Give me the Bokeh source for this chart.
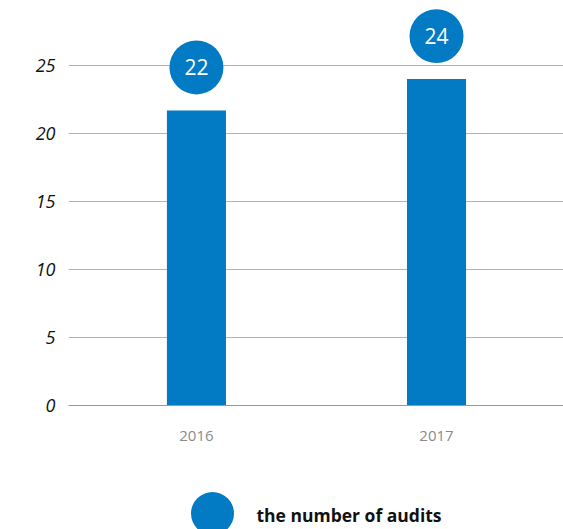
from bokeh.plotting import figure
from bokeh.layouts import column
from bokeh.models import Range1d, FixedTicker, ColumnDataSource
from bokeh.transform import dodge
from bokeh.core.properties import value
from bokeh.embed import file_html
from bokeh.resources import INLINE

# ---- data ----
years = ["2016", "2017"]
audits = [21.7, 24]
audit_labels = ["22", "24"]
series_name = ["the number of audits"]
y_ticks = [0, 5, 10, 15, 20, 25]

# ---- style ----
BLUE = "#027BC4"
FONT = "Open Sans"

xs = list(range(len(years)))
src = ColumnDataSource(dict(x=xs, top=audits, lab=audit_labels))

p = figure(width=563, height=465, output_backend="svg", toolbar_location=None,
           x_range=Range1d(-0.533, 1.529), y_range=Range1d(0, 29.78),
           min_border_left=68, min_border_right=0, min_border_top=0, min_border_bottom=60)
p.outline_line_color = None
p.background_fill_color = "white"
p.border_fill_color = "white"

p.vbar(x="x", top="top", width=0.246, bottom=0, source=src, fill_color=BLUE, line_color=None)
p.scatter(x="x", y=dodge("top", 3.16), size=54, source=src,
          fill_color=BLUE, line_color=None)
p.text(x="x", y=dodge("top", 3.16), text="lab", source=src, text_color="white",
       text_font=value(FONT), text_font_size="21px", text_align="center",
       text_baseline="middle")

# axes
p.xgrid.grid_line_color = None
p.ygrid.grid_line_color = "#b3b3b3"
p.ygrid.ticker = FixedTicker(ticks=y_ticks)

p.yaxis.ticker = FixedTicker(ticks=y_ticks)
p.yaxis.axis_line_color = None
p.yaxis.major_tick_line_color = None
p.yaxis.minor_tick_line_color = None
p.yaxis.major_tick_out = 0
p.yaxis.major_tick_in = 0
p.yaxis.major_label_standoff = 13
p.yaxis.major_label_text_font = FONT
p.yaxis.major_label_text_font_style = "italic"
p.yaxis.major_label_text_font_size = "18px"
p.yaxis.major_label_text_color = "#111111"

p.xaxis.ticker = FixedTicker(ticks=xs)
p.xaxis.major_label_overrides = {i: y for i, y in zip(xs, years)}
p.xaxis.axis_line_color = "#999999"
p.xaxis.major_tick_line_color = None
p.xaxis.minor_tick_line_color = None
p.xaxis.major_tick_out = 0
p.xaxis.major_tick_in = 0
p.xaxis.major_label_standoff = 25
p.xaxis.major_label_text_font = FONT
p.xaxis.major_label_text_font_size = "15px"
p.xaxis.major_label_text_color = "#8a8a8a"

# ---- legend strip (page-pixel coordinates, frame aligned with chart) ----
lg = figure(width=563, height=64, output_backend="svg", toolbar_location=None,
            x_range=Range1d(68, 563), y_range=Range1d(0, 64),
            x_axis_type=None, y_axis_type=None,
            min_border_left=68, min_border_right=0, min_border_top=0, min_border_bottom=0)
lg.outline_line_color = None
lg.xgrid.grid_line_color = None
lg.ygrid.grid_line_color = None
lg_src = ColumnDataSource(dict(x=[212], y=[16], tx=[256], ty=[15], name=series_name))
lg.scatter(x="x", y="y", size=43, source=lg_src, fill_color=BLUE, line_color=None)
lg.text(x="tx", y="ty", text="name", source=lg_src, text_color="#111111",
        text_font=value(FONT), text_font_size="17.5px", text_font_style="bold",
        text_align="left", text_baseline="middle")

open("out.html", "w").write(file_html(column(p, lg, spacing=0), INLINE))
